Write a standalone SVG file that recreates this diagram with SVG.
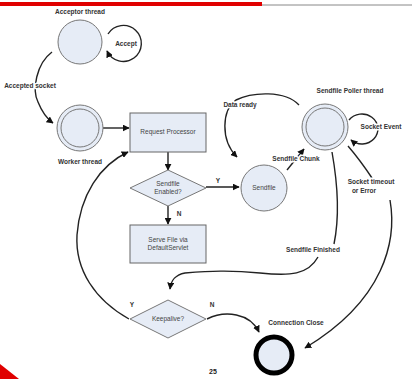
<svg xmlns="http://www.w3.org/2000/svg" width="412" height="379" viewBox="0 0 412 379">
<defs>
<marker id="ah" viewBox="0 0 10 10" refX="9" refY="5" markerWidth="5" markerHeight="5" orient="auto-start-reverse">
<path d="M0,0 L10,5 L0,10 z" fill="#111"/>
</marker>
<style>
.st{fill:#e6ecf6;stroke:#777;stroke-width:1}
.box{fill:#e6ecf6;stroke:#666;stroke-width:1}
.c{fill:none;stroke:#222;stroke-width:1.4;marker-end:url(#ah)}
.p{fill:none;stroke:#222;stroke-width:1.4}
.t{font-family:"Liberation Sans",Arial,sans-serif;font-size:6.5px;fill:#444;text-anchor:middle}
.tb{font-family:"Liberation Sans",Arial,sans-serif;font-size:6.5px;fill:#333;text-anchor:middle;font-weight:bold}
.h{stroke:#fff;stroke-width:3;paint-order:stroke;stroke-linejoin:round}
</style>
</defs>
<rect x="0" y="0" width="412" height="379" fill="#fff"/>
<rect x="0" y="2" width="262" height="4" fill="#e00000"/>
<line x1="262" y1="5" x2="412" y2="5" stroke="#888" stroke-width="1"/>
<polygon points="0,364 19,379 0,379" fill="#e00000"/>
<text x="213" y="374" class="t" style="font-size:7px;font-weight:bold;fill:#222">25</text>

<g id="connectors">
<path class="c" d="M108,34 A18,18 0 1 1 107,51"/>
<path class="c" d="M52,52 C36,64 32,90 38,102 C42,112 46,118 53,123"/>
<line class="c" x1="103" y1="128" x2="129" y2="128"/>
<line class="c" x1="168" y1="152" x2="168" y2="170"/>
<line class="c" x1="206" y1="187" x2="239" y2="187"/>
<line class="c" x1="168" y1="206" x2="168" y2="224"/>
<path class="c" d="M299,105 C285,90 252,92 236,100 C222,110 220,140 237,157"/>
<path class="c" d="M349,120 A16,15 0 1 1 351,140"/>
<line class="c" x1="287" y1="170" x2="304" y2="149"/>
<path class="p" d="M332,152 C337,180 340,215 334,244"/>
<path class="c" d="M318,257 C308,275 290,276 260,273 C230,270 210,271 185,273 C175,275 171,280 170,289"/>
<path class="p" d="M348,146 C360,160 368,172 372,178"/>
<path class="c" d="M390,200 C397,240 385,300 305,348"/>
<path class="c" d="M129,319 C95,300 75,270 77,235 C80,195 100,165 128,152"/>
<path class="c" d="M207,319 C225,310 250,313 259,332"/>
</g>

<g id="acceptor">
<circle cx="80" cy="42" r="22" class="st"/>
<text x="80" y="14" class="tb">Acceptor thread</text>
</g>
<g id="accept-label"><text x="126" y="46" class="tb h">Accept</text></g>
<g id="accepted-label"><text x="30" y="88" class="tb h">Accepted socket</text></g>

<g id="worker">
<circle cx="80" cy="128" r="23" class="st"/>
<circle cx="80" cy="128" r="19" class="st"/>
<text x="80" y="164" class="tb">Worker thread</text>
</g>

<g id="request-processor">
<rect x="130" y="113" width="76" height="39" class="box"/>
<text x="168" y="134" class="t">Request Processor</text>
</g>

<g id="sendfile-enabled">
<polygon points="168,170 206,188 168,206 130,188" class="st"/>
<text x="168" y="186" class="t">Sendfile</text>
<text x="168" y="194" class="t">Enabled?</text>
<text x="218" y="183" class="tb">Y</text>
<text x="179" y="216" class="tb">N</text>
</g>

<g id="serve-file">
<rect x="130" y="225" width="76" height="38" class="box"/>
<text x="168" y="242" class="t">Serve File via</text>
<text x="168" y="250" class="t">DefaultServlet</text>
</g>

<g id="sendfile">
<circle cx="264" cy="188" r="23" class="st"/>
<text x="264" y="190" class="t">Sendfile</text>
</g>

<g id="poller">
<circle cx="325" cy="127" r="23" class="st"/>
<circle cx="325" cy="127" r="19" class="st"/>
<text x="350" y="93" class="tb">Sendfile Poller thread</text>
</g>

<g id="labels">
<text x="240" y="107" class="tb h">Data ready</text>
<text x="296" y="161" class="tb h">Sendfile Chunk</text>
<text x="381" y="129" class="tb h">Socket Event</text>
<text x="371" y="184" class="tb h">Socket timeout</text>
<text x="364" y="193" class="tb h">or Error</text>
<text x="313" y="252" class="tb h">Sendfile Finished</text>
</g>

<g id="keepalive">
<polygon points="168,300 206,319 168,338 130,319" class="st"/>
<text x="168" y="321" class="t">Keepalive?</text>
<text x="132" y="307" class="tb">Y</text>
<text x="212" y="307" class="tb">N</text>
</g>

<g id="connection-close">
<circle cx="274" cy="355" r="18" fill="#e6ecf6" stroke="#000" stroke-width="5"/>
<text x="296" y="325" class="tb">Connection Close</text>
</g>
</svg>
